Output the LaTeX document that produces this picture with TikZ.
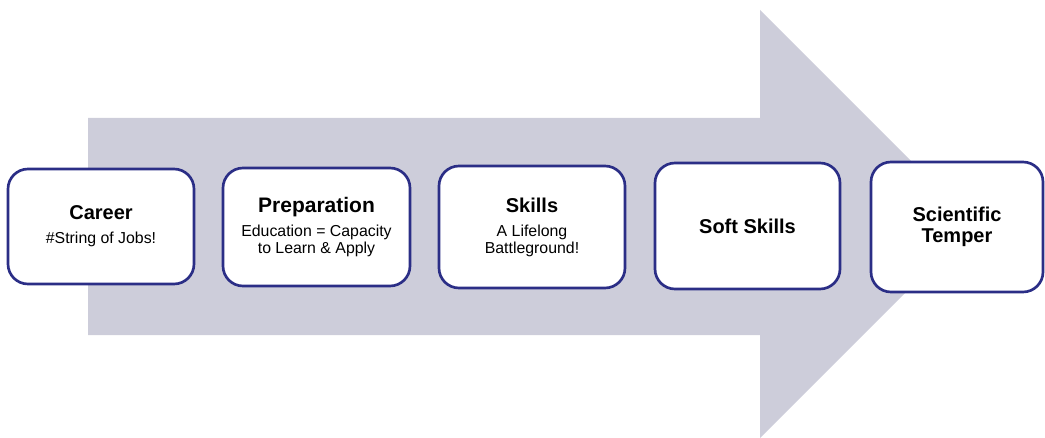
\documentclass[tikz,border=0pt]{standalone}
\usepackage{fontspec}
\setmainfont{Liberation Sans}
\definecolor{arrowgray}{RGB}{205,205,218}
\definecolor{boxnavy}{RGB}{43,46,134}
\newcommand{\stagetitle}[1]{{\fontsize{15}{18}\selectfont\bfseries #1}}

\begin{document}
\begin{tikzpicture}[x=0.75pt, y=-0.75pt,
    stagebox/.style={draw=boxnavy, line width=2pt, fill=white, rounded corners=15pt, align=center, inner sep=0pt,
        font=\fontsize{11.9}{12.75}\selectfont},
    bigstage/.style={stagebox, font=\fontsize{15}{15.75}\selectfont\bfseries}]
        \useasboundingbox (0,0) rectangle (1045,438);
        % big arrow behind the stages
        \fill[arrowgray] (88,118) -- (760,118) -- (760,10) -- (974,224) -- (760,438) -- (760,335) -- (88,335) -- cycle;

        \node[stagebox, minimum width=139.5pt, minimum height=86.25pt] (career) at (101,226.5)
            {\stagetitle{Career}\\[5.25pt]\#String of Jobs!};
        \node[stagebox, minimum width=140.25pt, minimum height=88.5pt] (preparation) at (316.5,227)
            {\stagetitle{\fontsize{15.75}{18}\selectfont Preparation}\\[5.25pt]Education = Capacity\\to Learn \& Apply};
        \node[stagebox, minimum width=139.5pt, minimum height=91.5pt] (skills) at (532,227)
            {\stagetitle{Skills}\\[5.25pt]A Lifelong\\Battleground!};
        \node[bigstage, minimum width=138.75pt, minimum height=94.5pt] (softskills) at (747.5,226)
            {Soft Skills};
        \node[bigstage, minimum width=129pt, minimum height=97.5pt] (temper) at (957,227)
            {Scientific\\Temper};
    \end{tikzpicture}
\end{document}
